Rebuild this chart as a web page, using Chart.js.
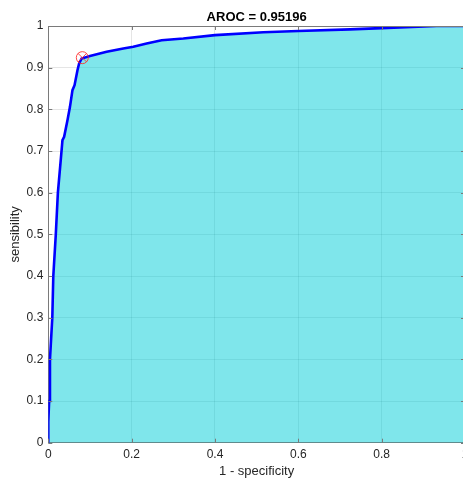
<!DOCTYPE html>
<html>
<head>
<meta charset="utf-8">
<script src="https://cdn.jsdelivr.net/npm/chart.js@4"></script>
<style>
  html, body { margin: 0; padding: 0; background: #fff; overflow: hidden; }
  #wrap { width: 512px; height: 479px; }
</style>
</head>
<body>
<div id="wrap"><canvas id="rocChart" width="512" height="479"></canvas></div>
<script>
  // ROC curve
  const fpr = [0, 0, 0.002, 0.004, 0.0096, 0.012, 0.018, 0.023, 0.030, 0.034, 0.038, 0.046, 0.052, 0.058, 0.063, 0.070, 0.074, 0.080, 0.10, 0.14, 0.18, 0.204, 0.236, 0.272, 0.324, 0.40, 0.516, 0.60, 0.724, 0.80, 0.932, 1];
  const tpr = [0, 0.05, 0.1, 0.2, 0.3, 0.4, 0.5, 0.6, 0.68, 0.726, 0.734, 0.774, 0.806, 0.846, 0.858, 0.894, 0.910, 0.922, 0.928, 0.938, 0.946, 0.950, 0.958, 0.966, 0.970, 0.978, 0.985, 0.988, 0.992, 0.995, 1.0, 1];
  const optPoint = [0.0816, 0.924];
  const aroc = '0.95196';
  const xTicks = [0, 0.2, 0.4, 0.6, 0.8, 1];
  const xTickLabels = ['0', '0.2', '0.4', '0.6', '0.8', '1'];
  const yTicks = [0, 0.1, 0.2, 0.3, 0.4, 0.5, 0.6, 0.7, 0.8, 0.9, 1];
  const yTickLabels = ['0', '0.1', '0.2', '0.3', '0.4', '0.5', '0.6', '0.7', '0.8', '0.9', '1'];

  const FONT = 'Helvetica, "Liberation Sans", Arial, sans-serif';
  const TXT = '#262626';

  // matlab style box + inward ticks
  const boxTicks = {
    id: 'boxTicks',
    afterDatasetsDraw(chart) {
      const { ctx, chartArea: a, scales: { x, y } } = chart;
      ctx.save();
      ctx.strokeStyle = '#7a7a7a';
      ctx.lineWidth = 1;
      ctx.beginPath();
      ctx.moveTo(a.left, a.top + 0.5); ctx.lineTo(a.right, a.top + 0.5);
      ctx.moveTo(a.right - 0.5, a.top); ctx.lineTo(a.right - 0.5, a.bottom);
      xTicks.forEach(v => {
        const px = Math.round(x.getPixelForValue(v)) + 0.5;
        ctx.moveTo(px, a.bottom); ctx.lineTo(px, a.bottom - 4);
        ctx.moveTo(px, a.top); ctx.lineTo(px, a.top + 4);
      });
      yTicks.forEach(v => {
        const py = Math.round(y.getPixelForValue(v)) + 0.5;
        ctx.moveTo(a.left, py); ctx.lineTo(a.left + 4, py);
        ctx.moveTo(a.right, py); ctx.lineTo(a.right - 4, py);
      });
      ctx.stroke();
      ctx.restore();
    }
  };

  const ctx = document.getElementById('rocChart').getContext('2d');
  new Chart(ctx, {
    type: 'scatter',
    data: {
      datasets: [
        {
          label: 'opt circle',
          data: [{ x: optPoint[0], y: optPoint[1] }],
          pointStyle: 'circle',
          pointRadius: 6,
          pointBorderWidth: 1,
          pointBorderColor: 'rgba(255,40,40,0.85)',
          pointBackgroundColor: 'rgba(0,0,0,0)'
        },
        {
          label: 'opt cross',
          data: [{ x: optPoint[0], y: optPoint[1] }],
          pointStyle: 'crossRot',
          pointRadius: 6,
          pointBorderWidth: 1,
          pointBorderColor: 'rgba(255,40,40,0.85)'
        },
        {
          label: 'ROC',
          data: fpr.map((v, i) => ({ x: v, y: tpr[i] })),
          showLine: true,
          borderColor: '#0000ff',
          borderWidth: 2.6,
          pointRadius: 0,
          tension: 0,
          fill: 'origin',
          backgroundColor: 'rgba(0,205,215,0.5)'
        }
      ]
    },
    options: {
      responsive: false,
      animation: false,
      layout: { padding: { left: 0, right: 47, top: 0, bottom: 0 } },
      plugins: {
        legend: { display: false },
        tooltip: { enabled: false },
        title: {
          display: true,
          fullSize: false,
          text: 'AROC = ' + aroc,
          color: '#000',
          font: { family: FONT, size: 13, weight: 'bold', lineHeight: 1.2 },
          padding: { top: 9.2, bottom: 1.2 }
        }
      },
      scales: {
        x: {
          type: 'linear',
          min: 0, max: 1,
          afterFit: s => { s.height = 36.3; },
          afterBuildTicks: s => { s.ticks = xTicks.map(v => ({ value: v })); },
          ticks: {
            color: TXT,
            font: { family: FONT, size: 12 },
            padding: 5,
            maxRotation: 0,
            callback: (v, i) => xTickLabels[i]
          },
          grid: { color: 'rgba(38,38,38,0.12)', drawTicks: false },
          border: { color: '#7a7a7a', width: 1 },
          title: {
            display: true,
            text: '1 - specificity',
            color: TXT,
            font: { family: FONT, size: 13, lineHeight: 1.2 },
            padding: { top: 0, bottom: 0 }
          }
        },
        y: {
          type: 'linear',
          min: 0, max: 1,
          afterFit: s => { s.width = 48.3; },
          afterBuildTicks: s => { s.ticks = yTicks.map(v => ({ value: v })); },
          ticks: {
            color: TXT,
            font: { family: FONT, size: 12 },
            padding: 5,
            callback: (v, i) => yTickLabels[i]
          },
          grid: { color: 'rgba(38,38,38,0.12)', drawTicks: false },
          border: { color: '#7a7a7a', width: 1 },
          title: {
            display: true,
            text: 'sensibility',
            color: TXT,
            font: { family: FONT, size: 13, lineHeight: 1.2 },
            padding: { top: 8, bottom: 0 }
          }
        }
      }
    },
    plugins: [boxTicks]
  });
</script>
</body>
</html>
